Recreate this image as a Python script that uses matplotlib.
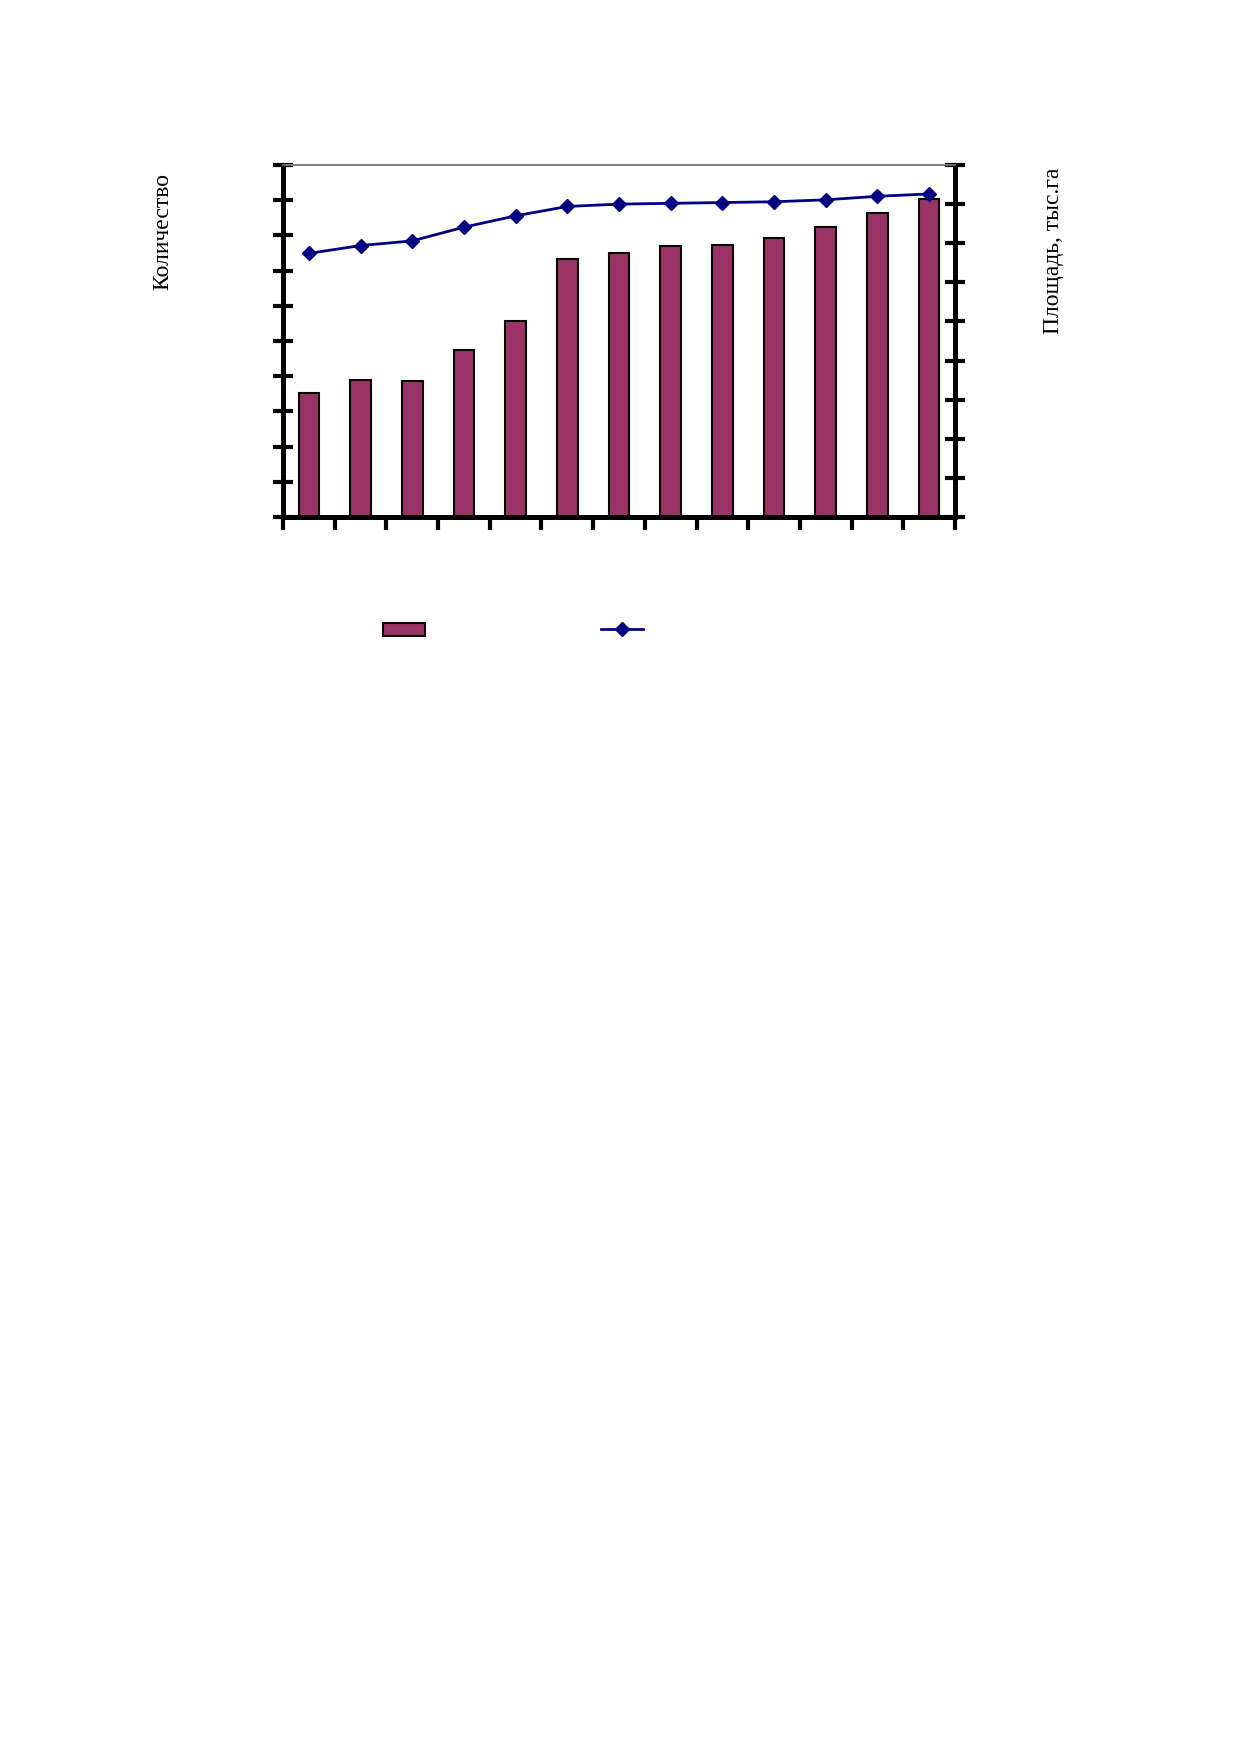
import matplotlib
matplotlib.use('Agg')
from matplotlib import pyplot as plt
from matplotlib.lines import Line2D
from matplotlib.patches import Patch

# Categories (the labels are not visible in the scan)
categories = list(range(1, 14))
# Bars on the left axis ("Количество"), in left-tick units
counts = [3.51, 3.89, 3.86, 4.74, 5.56, 7.32, 7.49, 7.70, 7.72, 7.93, 8.25, 8.63, 9.02]
# Line on the right axis ("Площадь, тыс.га"), in right-tick units
area = [6.74, 6.94, 7.06, 7.41, 7.70, 7.94, 8.00, 8.02, 8.04, 8.06, 8.11, 8.20, 8.26]

left_label = 'Количество'
right_label = 'Площадь, тыс.га'

bar_color = '#993366'
line_color = '#000080'

fig = plt.figure(figsize=(12.39, 17.54), dpi=100)
W, H = 1239, 1754
ax = fig.add_axes([283 / W, 1 - 517 / H, (955 - 283) / W, (517 - 165) / H])
ax2 = ax.twinx()

x = list(range(len(categories)))
ax.bar(x, counts, width=0.4, color=bar_color, edgecolor='black', linewidth=1.5, zorder=2)
ax2.plot(x, area, color=line_color, linewidth=2, marker='D', markersize=7, zorder=3)

ax.set_xlim(-0.5, len(categories) - 0.5)
ax.set_ylim(0, 10)
ax2.set_ylim(0, 9)

# ticks without labels, as in the scan
ax.set_yticks(range(0, 11))
ax2.set_yticks(range(0, 10))
ax.set_xticks([i - 0.5 for i in range(len(categories) + 1)])
ax.set_yticklabels([])
ax2.set_yticklabels([])
ax.set_xticklabels([])

ax.tick_params(axis='y', direction='inout', length=14, width=3)
ax2.tick_params(axis='y', direction='inout', length=14, width=3)
ax.tick_params(axis='x', direction='out', length=9, width=3)

for a in (ax, ax2):
    a.spines['left'].set_linewidth(3.5)
    a.spines['right'].set_linewidth(3.5)
    a.spines['bottom'].set_linewidth(3.5)
    a.spines['top'].set_color('#808080')
    a.spines['top'].set_linewidth(1.2)

fig.text(163 / W, 1 - 231 / H, left_label, rotation=90, ha='center', va='center',
         fontsize=17, family='Liberation Serif')
fig.text(1053 / W, 1 - 251 / H, right_label, rotation=90, ha='center', va='center',
         fontsize=17, family='Liberation Serif')

# legend with no text, two entries side by side
handles = [Patch(facecolor=bar_color, edgecolor='black', linewidth=1.5),
           Line2D([0], [0], color=line_color, linewidth=2, marker='D', markersize=7)]
fig.legend(handles, ['', ''], ncol=2, loc='center left',
           bbox_to_anchor=(368 / W, 1 - 630 / H), frameon=False,
           handlelength=2.5, handleheight=0.8, columnspacing=9.8, fontsize=12)

fig.savefig('out.png', dpi=100)
